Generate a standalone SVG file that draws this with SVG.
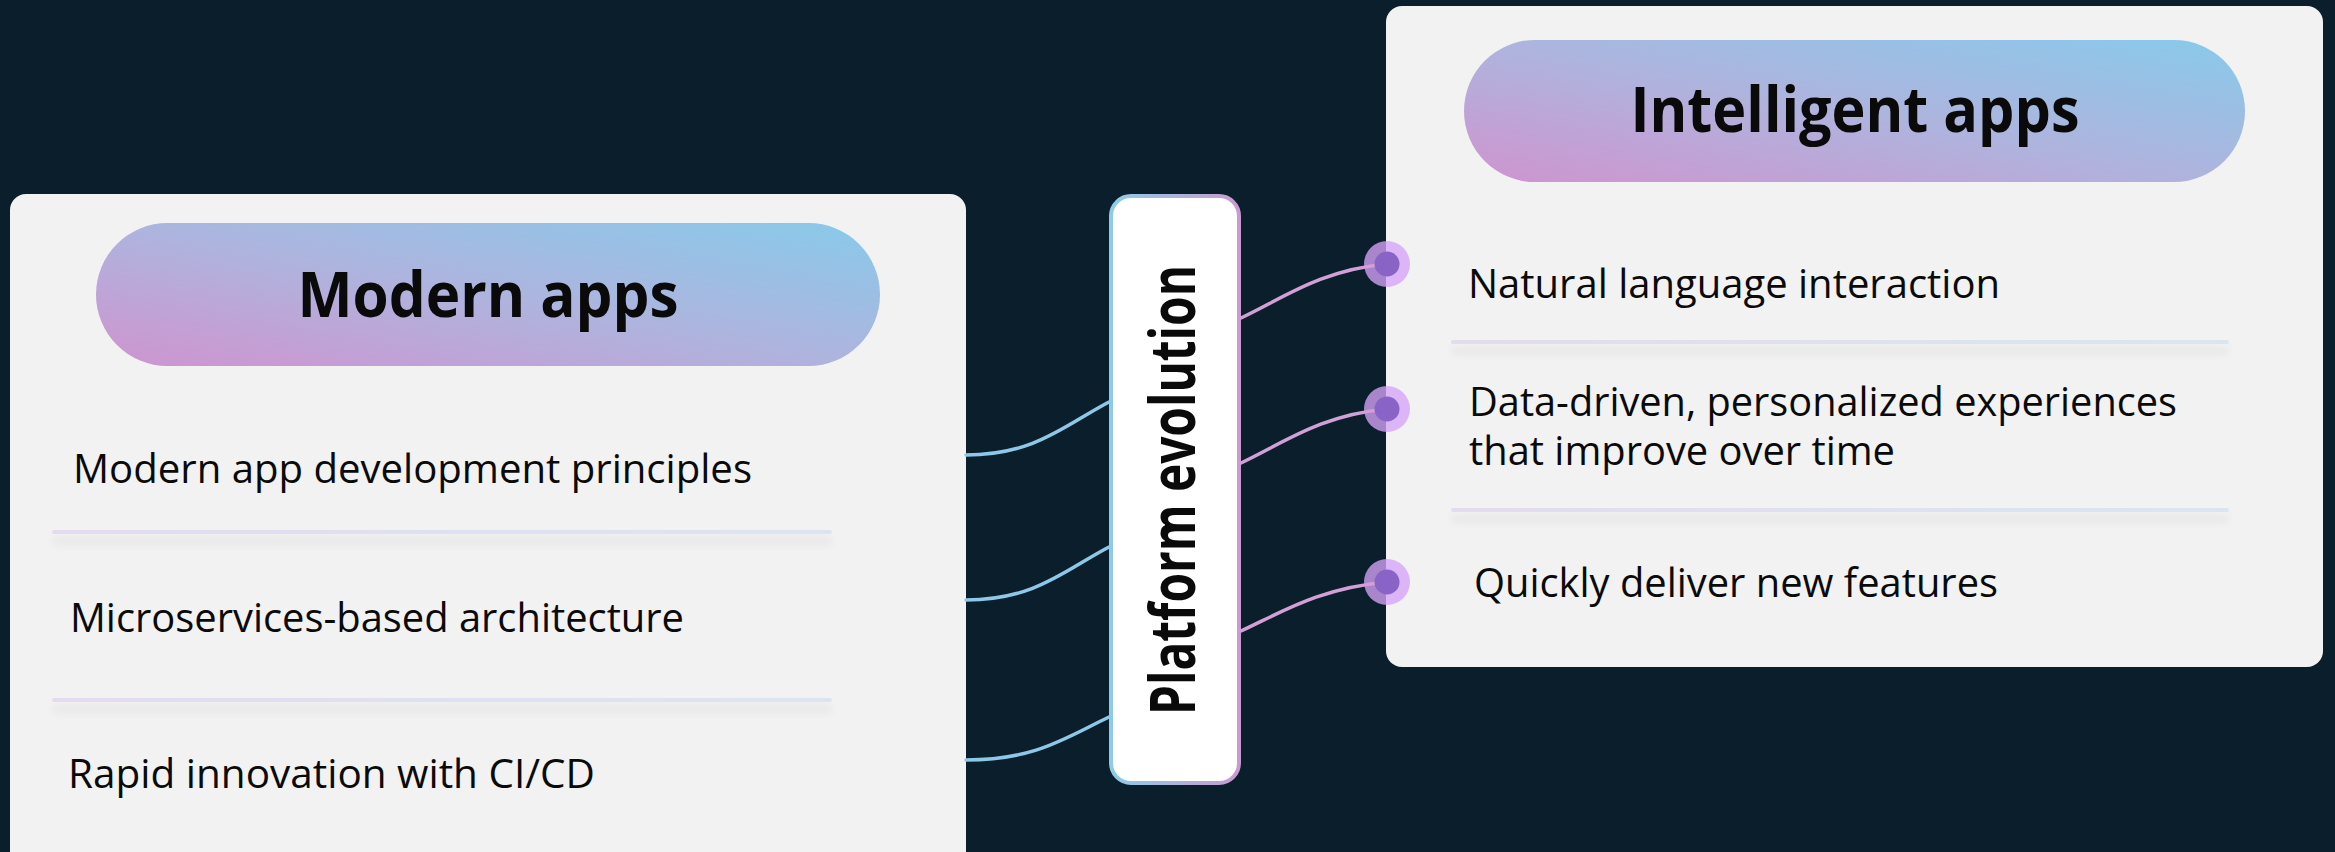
<svg xmlns="http://www.w3.org/2000/svg" width="2335" height="852" viewBox="0 0 2335 852">
<defs>
<linearGradient id="pill" x1="0" y1="1" x2="1" y2="0">
<stop offset="0" stop-color="#cf94cf"/>
<stop offset="0.5" stop-color="#aeb4de"/>
<stop offset="1" stop-color="#88caea"/>
</linearGradient>
<linearGradient id="boxStroke" x1="0" y1="0" x2="1" y2="0">
<stop offset="0" stop-color="#8ecbe8"/>
<stop offset="1" stop-color="#c99ad0"/>
</linearGradient>
<linearGradient id="sep" x1="0" y1="0" x2="1" y2="0">
<stop offset="0" stop-color="#e3dcee"/>
<stop offset="1" stop-color="#dbe5f0"/>
</linearGradient>
<filter id="blur" x="-5%" y="-100%" width="110%" height="300%">
<feGaussianBlur stdDeviation="4"/>
</filter>
<style>
.card{fill:#f2f2f2}
.head{font-family:"Open Sans","Noto Sans",sans-serif;font-weight:700;font-size:62px;fill:#0a0a0a;text-anchor:middle}
.item{font-family:"Open Sans","Noto Sans",sans-serif;font-weight:400;font-size:40px;fill:#0a0a0a}
.sepline{fill:url(#sep)}
.shadow{fill:#000;opacity:0.035;filter:url(#blur)}
.cl{fill:none;stroke:#8ec8e8;stroke-width:3.5;stroke-linecap:round}
.cr{fill:none;stroke:#d2a0d6;stroke-width:3.5;stroke-linecap:round}
.dotOuter{fill:#d6a3fa;fill-opacity:0.78}
.dotInner{fill:#8a63c6}
</style>
</defs>
<rect width="2335" height="852" fill="#0b1e2c"/>

<g id="modern-apps">
<rect class="card" x="10" y="194" width="956" height="680" rx="16"/>
<rect x="96" y="223" width="784" height="143" rx="71.5" fill="url(#pill)"/>
<text class="head" x="488" y="317" textLength="381" lengthAdjust="spacingAndGlyphs">Modern apps</text>
<text class="item" x="73" y="483" textLength="679" lengthAdjust="spacingAndGlyphs">Modern app development principles</text>
<rect class="shadow" x="52" y="536" width="780" height="10"/>
<rect class="sepline" x="52" y="530" width="780" height="4" rx="2"/>
<text class="item" x="70" y="632" textLength="614" lengthAdjust="spacingAndGlyphs">Microservices-based architecture</text>
<rect class="shadow" x="52" y="704" width="780" height="10"/>
<rect class="sepline" x="52" y="698" width="780" height="4" rx="2"/>
<text class="item" x="68" y="788" textLength="527" lengthAdjust="spacingAndGlyphs">Rapid innovation with CI/CD</text>
</g>

<g id="intelligent-apps">
<rect class="card" x="1386" y="6" width="937" height="661" rx="16"/>
<rect x="1464" y="40" width="781" height="142" rx="71" fill="url(#pill)"/>
<text class="head" x="1855" y="132" textLength="449" lengthAdjust="spacingAndGlyphs">Intelligent apps</text>
<text class="item" x="1468" y="298" textLength="532" lengthAdjust="spacingAndGlyphs">Natural language interaction</text>
<rect class="shadow" x="1451" y="346" width="778" height="10"/>
<rect class="sepline" x="1451" y="340" width="778" height="4" rx="2"/>
<text class="item"><tspan x="1469" y="416" textLength="708" lengthAdjust="spacingAndGlyphs">Data-driven, personalized experiences</tspan><tspan x="1469" y="465" textLength="426" lengthAdjust="spacingAndGlyphs">that improve over time</tspan></text>
<rect class="shadow" x="1451" y="514" width="778" height="10"/>
<rect class="sepline" x="1451" y="508" width="778" height="4" rx="2"/>
<text class="item" x="1474" y="597" textLength="524" lengthAdjust="spacingAndGlyphs">Quickly deliver new features</text>
</g>

<g id="platform-evolution">
<rect x="1111" y="196" width="128" height="587" rx="20" fill="#ffffff" stroke="url(#boxStroke)" stroke-width="4"/>
<g transform="translate(1195,490) rotate(-90)">
<text class="head" x="0" y="0" font-size="54" textLength="450" lengthAdjust="spacingAndGlyphs">Platform evolution</text>
</g>
</g>

<g id="dots-outer">
<circle class="dotOuter" cx="1387" cy="264" r="23"/>
<circle class="dotOuter" cx="1387" cy="409" r="23"/>
<circle class="dotOuter" cx="1387" cy="582" r="23"/>
</g>

<g id="connectors">
<path class="cl" d="M966,455 C1035,455 1065,425 1109,402"/>
<path class="cl" d="M966,600 C1035,600 1065,570 1109,547"/>
<path class="cl" d="M966,760 C1035,760 1065,738 1109,717"/>
<path class="cr" d="M1241,318 C1282,299 1320,270 1387,264"/>
<path class="cr" d="M1241,463 C1282,444 1320,415 1387,409"/>
<path class="cr" d="M1241,631 C1282,612 1320,588 1387,582"/>
</g>

<g id="dots-inner">
<circle class="dotInner" cx="1387" cy="264" r="12.5"/>
<circle class="dotInner" cx="1387" cy="409" r="12.5"/>
<circle class="dotInner" cx="1387" cy="582" r="12.5"/>
</g>
</svg>
